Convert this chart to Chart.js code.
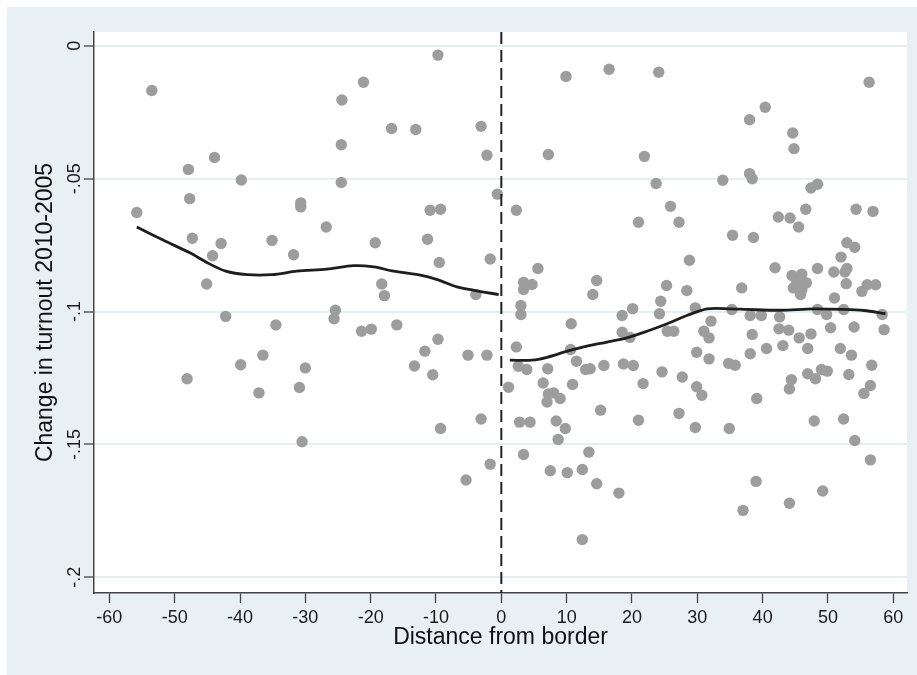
<!DOCTYPE html>
<html><head><meta charset="utf-8">
<script src="https://cdn.jsdelivr.net/npm/chart.js@4.4.1/dist/chart.umd.min.js"></script>
<style>html,body{margin:0;padding:0;background:#fff;}#wrap{width:917px;height:675px;position:relative;}</style>
</head><body><div id="wrap"><canvas id="c" width="917" height="675"></canvas></div>
<script>
// Scatter points: [distance from border, change in turnout]
const leftPoints = [[-53.5,-0.0168],[-55.8,-0.0627],[-47.9,-0.0465],[-43.9,-0.042],[-47.7,-0.0575],[-39.8,-0.0505],[-47.3,-0.0724],[-42.9,-0.0744],[-44.2,-0.079],[-45.1,-0.0896],[-42.2,-0.1018],[-35.1,-0.0732],[-31.8,-0.0786],[-30.7,-0.0591],[-30.7,-0.0606],[-26.8,-0.0682],[-24.4,-0.0204],[-24.5,-0.0372],[-24.5,-0.0514],[-21.1,-0.0137],[-19.3,-0.0741],[-18.3,-0.0896],[-17.9,-0.094],[-25.4,-0.0995],[-25.6,-0.1027],[-16.8,-0.0311],[-13.1,-0.0315],[-9.7,-0.0035],[-10.9,-0.0619],[-9.3,-0.0615],[-11.3,-0.0728],[-9.5,-0.0815],[-3.1,-0.0303],[-2.2,-0.0412],[-0.6,-0.0558],[-1.7,-0.0802],[-3.9,-0.0936],[-34.5,-0.105],[-21.4,-0.1074],[-19.9,-0.1066],[-16.0,-0.105],[-9.7,-0.1104],[-11.7,-0.1149],[-5.1,-0.1164],[-2.2,-0.1164],[-13.3,-0.1205],[-10.5,-0.1238],[-36.5,-0.1164],[-39.9,-0.12],[-48.1,-0.1253],[-30.0,-0.1212],[-37.1,-0.1306],[-30.9,-0.1286],[-30.5,-0.149],[-9.3,-0.144],[-3.1,-0.1404],[-1.7,-0.1574],[-5.4,-0.1634]];
const rightPoints = [[9.9,-0.0115],[16.5,-0.0088],[24.1,-0.0099],[56.3,-0.0137],[40.4,-0.0231],[38.0,-0.0278],[44.6,-0.0328],[44.8,-0.0387],[7.2,-0.0409],[21.9,-0.0416],[23.7,-0.0518],[33.9,-0.0506],[38.0,-0.0481],[38.4,-0.05],[47.4,-0.0535],[48.4,-0.0521],[2.3,-0.0619],[25.9,-0.0604],[21.0,-0.0664],[27.2,-0.0664],[42.4,-0.0644],[44.2,-0.0648],[45.5,-0.0682],[46.6,-0.0615],[54.3,-0.0615],[56.9,-0.0623],[35.4,-0.0713],[38.6,-0.0721],[28.8,-0.0807],[5.6,-0.0838],[41.9,-0.0835],[52.9,-0.0741],[54.1,-0.0758],[52.0,-0.0795],[48.4,-0.0838],[50.9,-0.0851],[52.9,-0.0838],[52.6,-0.0851],
[44.5,-0.0864],[46.0,-0.0859],[45.2,-0.089],[46.7,-0.0892],[44.7,-0.0911],[46.0,-0.0917],[45.8,-0.0936],
[52.8,-0.0895],[55.2,-0.0924],[56.0,-0.0899],[57.3,-0.0899],[51.0,-0.0949],[36.8,-0.0911],[25.3,-0.0902],[28.4,-0.0921],[24.4,-0.0961],[3.4,-0.089],[4.7,-0.0898],[3.4,-0.0917],[14.6,-0.0883],[14.0,-0.0936],[3.0,-0.0977],[3.0,-0.1011],[20.1,-0.0989],[18.5,-0.1015],[24.2,-0.1008],[29.7,-0.0986],[35.3,-0.0992],[38.1,-0.1015],[39.8,-0.1015],[42.6,-0.102],[48.4,-0.0992],[49.8,-0.1011],[52.4,-0.0992],[58.3,-0.1011],[32.1,-0.1036],[10.7,-0.1046],[42.5,-0.1065],[44.0,-0.107],[50.4,-0.1061],[54.0,-0.1058],[58.6,-0.1068],[45.6,-0.1099],[47.4,-0.1084],[25.4,-0.1074],[26.4,-0.1074],[31.0,-0.1074],[31.8,-0.1099],[38.4,-0.1086],[18.5,-0.1078],[19.7,-0.1097],[2.3,-0.1133],[10.6,-0.1143],[40.6,-0.1139],[43.1,-0.1128],[46.9,-0.1139],[51.9,-0.1139],[53.6,-0.1164],[29.9,-0.1153],[38.1,-0.1159],[31.8,-0.1178],[11.5,-0.1187],[2.6,-0.1206],[3.9,-0.1218],[7.1,-0.1215],[12.9,-0.1218],[13.6,-0.1215],[15.7,-0.1203],[18.7,-0.1197],[20.2,-0.1203],[34.8,-0.1195],[35.8,-0.1202],[56.7,-0.1202],[24.6,-0.1227],[27.7,-0.1246],[46.9,-0.1234],[48.1,-0.1253],[49.0,-0.1218],[49.9,-0.1224],[53.2,-0.1237],
[1.1,-0.1285],[6.4,-0.1269],[10.9,-0.1274],[21.7,-0.1271],[7.2,-0.131],[8.0,-0.1306],[9.0,-0.1327],[7.0,-0.134],[29.9,-0.1283],[30.7,-0.1315],[44.4,-0.1256],[44.1,-0.1291],[56.5,-0.1278],[55.5,-0.1308],[39.1,-0.1327],[15.2,-0.1371],[27.2,-0.1383],[2.8,-0.1416],[4.4,-0.1416],[8.4,-0.1412],[9.8,-0.144],[21.0,-0.1409],[29.7,-0.1436],[34.9,-0.144],[47.9,-0.1412],[52.4,-0.1404],[8.7,-0.1481],[54.1,-0.1485],[3.4,-0.1538],[13.4,-0.1529],[56.5,-0.1558],[7.5,-0.1599],[10.1,-0.1606],[12.4,-0.1594],[14.6,-0.1648],[18.0,-0.1683],[39.0,-0.1639],[49.2,-0.1675],[44.1,-0.1721],[37.0,-0.1748],[12.4,-0.1858]];
// Smoothed fit lines
const leftFitX = [-55.8,-51.7,-47.6,-45.1,-42.2,-38.9,-35.1,-31.3,-26.7,-22.6,-19.5,-16.5,-12.4,-9.8,-6.8,-4.2,-0.4];
const leftFitY = [-0.0682,-0.0732,-0.078,-0.0815,-0.0848,-0.0861,-0.0861,-0.0848,-0.084,-0.0827,-0.0832,-0.0848,-0.0863,-0.088,-0.0907,-0.092,-0.0936];
const rightFitX = [1.3,4.7,7.0,10.1,13.1,16.2,19.2,22.3,25.4,28.4,31.5,35.1,37.6,42.7,47.8,52.4,55.5,58.8];
const rightFitY = [-0.1183,-0.1183,-0.1172,-0.1149,-0.113,-0.1115,-0.1099,-0.1074,-0.1046,-0.1015,-0.099,-0.099,-0.0992,-0.0995,-0.099,-0.0992,-0.0996,-0.1008];
// Axes
const xTicks = [-60,-50,-40,-30,-20,-10,0,10,20,30,40,50,60];
const yTicks = [0,-0.05,-0.1,-0.15,-0.2];
const yTickLabels = ['0','-.05','-.1','-.15','-.2'];
const borderCutoff = 0;
const X_MIN = -62.35, X_MAX = 62.1, Y_MIN = -0.2059, Y_MAX = 0.0052;

const FONT = "'Liberation Sans', Arial, sans-serif";
const bgPlugin = {
  id: 'bg',
  beforeDraw(chart) {
    const {ctx, chartArea: a} = chart;
    ctx.save();
    ctx.fillStyle = '#ffffff';
    ctx.fillRect(0, 0, chart.width, chart.height);
    ctx.fillStyle = '#e9f0f3';
    ctx.fillRect(7, 7, chart.width - 7, chart.height - 7);
    ctx.fillStyle = '#ffffff';
    ctx.fillRect(a.left, a.top, a.right - a.left, a.bottom - a.top);
    ctx.restore();
  }
};

const toXY = arr => arr.map(p => ({x: p[0], y: p[1]}));
const pointStyle = {backgroundColor: '#9d9d9d', borderWidth: 0, pointRadius: 5.7, pointHoverRadius: 5.7};

new Chart(document.getElementById('c'), {
  type: 'scatter',
  data: {
    datasets: [
      {type: 'line', data: leftFitX.map((x, i) => ({x, y: leftFitY[i]})), borderColor: '#1e1e1e', borderWidth: 2.8, pointRadius: 0, fill: false, tension: 0.3, order: 0},
      {type: 'line', data: rightFitX.map((x, i) => ({x, y: rightFitY[i]})), borderColor: '#1e1e1e', borderWidth: 2.8, pointRadius: 0, fill: false, tension: 0.3, order: 0},
      {type: 'line', data: [{x: borderCutoff, y: Y_MAX}, {x: borderCutoff, y: Y_MIN}], borderColor: '#222', borderWidth: 2, borderDash: [12, 6], pointRadius: 0, fill: false, order: 1},
      Object.assign({data: toXY(leftPoints), order: 2}, pointStyle),
      Object.assign({data: toXY(rightPoints), order: 2}, pointStyle)
    ]
  },
  options: {
    responsive: false, animation: false, devicePixelRatio: 1,
    layout: {padding: {top: 32, right: 10, left: 0, bottom: 0}},
    plugins: {legend: {display: false}, tooltip: {enabled: false}},
    scales: {
      x: {
        type: 'linear', min: X_MIN, max: X_MAX,
        afterBuildTicks: s => { s.ticks = xTicks.map(v => ({value: v})); },
        afterFit: s => { s.height = 82; },
        ticks: {font: {family: FONT, size: 18}, color: '#1a1a1a', padding: 4, autoSkip: false, maxRotation: 0, callback: v => String(v)},
        grid: {drawOnChartArea: false, tickLength: 10, tickColor: '#444', tickWidth: 1.3},
        border: {color: '#444', width: 1.5},
        title: {display: true, text: 'Distance from border', font: {family: FONT, size: 23}, color: '#111', padding: {top: 0, bottom: 24}}
      },
      y: {
        type: 'linear', min: Y_MIN, max: Y_MAX,
        afterBuildTicks: s => { s.ticks = yTicks.map(v => ({value: v})); },
        afterFit: s => { s.width = 94; },
        ticks: {font: {family: FONT, size: 18}, color: '#1a1a1a', minRotation: 90, maxRotation: 90, crossAlign: 'center', padding: -6.5, callback: (v, i) => yTickLabels[i]},
        grid: {color: '#e6eef2', lineWidth: 2, tickLength: 10, tickColor: '#444', tickWidth: 1.3},
        border: {color: '#444', width: 1.5},
        title: {display: true, text: 'Change in turnout 2010-2005', font: {family: FONT, size: 23}, color: '#111', padding: {top: 32, bottom: 0}}
      }
    }
  },
  plugins: [bgPlugin]
});
</script>
</body></html>
